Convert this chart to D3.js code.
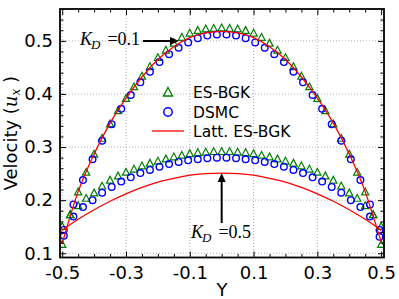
<!DOCTYPE html>
<html><head><meta charset="utf-8">
<script src="https://cdn.jsdelivr.net/npm/d3@7"></script>
<style>body{margin:0;background:#fff}svg{display:block}</style>
</head><body>
<svg id="c" width="399" height="299"></svg>
<script>
// ---- data ----
const esY = [-0.5,-0.475,-0.45,-0.425,-0.4,-0.375,-0.35,-0.325,-0.3,-0.275,-0.25,-0.225,-0.2,-0.175,-0.15,-0.125,-0.1,-0.075,-0.05,-0.025,0,
  0.025,0.05,0.075,0.1,0.125,0.15,0.175,0.2,0.225,0.25,0.275,0.3,0.325,0.35,0.375,0.4,0.425,0.45,0.475,0.5];
const esK01 = [0.117,0.173,0.216,0.253,0.287,0.317,0.344,0.369,0.392,0.414,0.434,0.452,0.469,0.483,0.496,0.507,0.515,0.520,0.523,0.524,0.525,
  0.524,0.523,0.520,0.515,0.507,0.496,0.483,0.469,0.452,0.434,0.414,0.392,0.369,0.344,0.317,0.287,0.253,0.216,0.173,0.117];
const esK05 = [0.151,0.173,0.190,0.204,0.214,0.227,0.238,0.246,0.253,0.259,0.265,0.270,0.274,0.278,0.282,0.285,0.288,0.290,0.291,0.292,0.292,
  0.292,0.291,0.290,0.288,0.285,0.282,0.278,0.274,0.270,0.265,0.259,0.253,0.246,0.238,0.227,0.214,0.204,0.190,0.173,0.151];
const dsY = [-0.495,-0.465,-0.435,-0.405,-0.375,-0.345,-0.315,-0.285,-0.255,-0.225,-0.195,-0.165,-0.135,-0.105,-0.075,-0.045,-0.015,
  0.015,0.045,0.075,0.105,0.135,0.165,0.195,0.225,0.255,0.285,0.315,0.345,0.375,0.405,0.435,0.465,0.495];
const dsK01 = [0.133,0.192,0.238,0.277,0.312,0.343,0.372,0.398,0.422,0.442,0.460,0.475,0.487,0.497,0.505,0.510,0.512,
  0.512,0.510,0.505,0.497,0.487,0.475,0.460,0.442,0.422,0.398,0.372,0.343,0.312,0.277,0.238,0.192,0.131];
const dsK05 = [0.144,0.169,0.187,0.200,0.214,0.225,0.235,0.243,0.251,0.257,0.263,0.268,0.272,0.275,0.277,0.279,0.280,
  0.280,0.279,0.277,0.275,0.272,0.268,0.263,0.257,0.251,0.243,0.235,0.225,0.214,0.200,0.187,0.169,0.144];
const latY = [-0.5,-0.475,-0.45,-0.4,-0.35,-0.3,-0.25,-0.2,-0.15,-0.1,-0.05,0,0.05,0.1,0.15,0.2,0.25,0.3,0.35,0.4,0.45,0.475,0.5];
const latK01 = [0.118,0.170,0.216,0.287,0.345,0.392,0.432,0.465,0.489,0.506,0.515,0.518,0.515,0.506,0.489,0.465,0.432,0.392,0.345,0.287,0.216,0.170,0.122];
const latK05 = [0.143,0.154,0.164,0.182,0.198,0.212,0.224,0.234,0.241,0.247,0.250,0.251,0.250,0.247,0.241,0.234,0.224,0.212,0.198,0.182,0.164,0.154,0.143];
const xTicks = [-0.5,-0.3,-0.1,0.1,0.3,0.5];
const xTickLabels = ["-0.5","-0.3","-0.1","0.1","0.3","0.5"];
const xMinor = [-0.45,-0.4,-0.35,-0.25,-0.2,-0.15,-0.05,0,0.05,0.15,0.2,0.25,0.35,0.4,0.45];
const yTicks = [0.1,0.2,0.3,0.4,0.5];
const yTickLabels = ["0.1","0.2","0.3","0.4","0.5"];
const yMinor = [0.12,0.14,0.16,0.18,0.22,0.24,0.26,0.28,0.32,0.34,0.36,0.38,0.42,0.44,0.46,0.48,0.52,0.54];
const legendLabels = ["ES-BGK","DSMC","Latt. ES-BGK"];

// ---- layout ----
const L=60, R=384, T=9, B=257.5;
const svg = d3.select("#c");
const x = d3.scaleLinear().domain([-0.507,0.509]).range([L,R]);
const y = d3.scaleLinear().domain([0.092,0.56]).range([B,T]);
const font = "DejaVu Sans, sans-serif";

// grid
const grid = svg.append("g").attr("stroke","#b0b0b0").attr("stroke-width",1).attr("stroke-dasharray","1,2");
grid.selectAll(".gx").data(xTicks).join("line").attr("x1",d=>x(d)).attr("x2",d=>x(d)).attr("y1",T).attr("y2",B);
grid.selectAll(".gy").data(yTicks).join("line").attr("y1",d=>y(d)).attr("y2",d=>y(d)).attr("x1",L).attr("x2",R);

// clip
svg.append("clipPath").attr("id","clip").append("rect").attr("x",L).attr("y",T).attr("width",R-L).attr("height",B-T);
const plot = svg.append("g").attr("clip-path","url(#clip)");

const tri = "M0,-3.6L3.6,3.2L-3.6,3.2Z";
function triangles(ys, vs){
  plot.append("g").selectAll("path").data(ys.map((d,i)=>[d,vs[i]])).join("path")
    .attr("d",tri).attr("transform",d=>`translate(${x(d[0])},${y(d[1])})`)
    .attr("fill","none").attr("stroke","#008000").attr("stroke-width",1.2);
}
function circles(ys, vs){
  plot.append("g").selectAll("circle").data(ys.map((d,i)=>[d,vs[i]])).join("circle")
    .attr("cx",d=>x(d[0])).attr("cy",d=>y(d[1])).attr("r",3.3)
    .attr("fill","none").attr("stroke","#0000ff").attr("stroke-width",1.4);
}
triangles(esY, esK01); triangles(esY, esK05);
circles(dsY, dsK01); circles(dsY, dsK05);
const line = d3.line().x(d=>x(d[0])).y(d=>y(d[1])).curve(d3.curveMonotoneX);
[latK01, latK05].forEach(vs=>{
  plot.append("path").attr("d", line(latY.map((d,i)=>[d,vs[i]])))
    .attr("fill","none").attr("stroke","#ff0000").attr("stroke-width",1.3);
});

// axes
function styleAxis(g){ g.select(".domain").remove(); g.selectAll("line").attr("stroke","#000").attr("stroke-width",1); }
const xb = svg.append("g").attr("transform",`translate(0,${B})`)
  .call(d3.axisBottom(x).tickValues(xTicks).tickFormat((d,i)=>xTickLabels[i]).tickSize(-6).tickPadding(9));
styleAxis(xb); xb.selectAll("text").attr("font-family",font).attr("font-size",18).attr("fill","#000");
const xbm = svg.append("g").attr("transform",`translate(0,${B})`).call(d3.axisBottom(x).tickValues(xMinor).tickFormat("").tickSize(-3.5));
styleAxis(xbm);
const xt = svg.append("g").attr("transform",`translate(0,${T})`).call(d3.axisTop(x).tickValues(xTicks).tickFormat("").tickSize(-6));
styleAxis(xt);
const xtm = svg.append("g").attr("transform",`translate(0,${T})`).call(d3.axisTop(x).tickValues(xMinor).tickFormat("").tickSize(-3.5));
styleAxis(xtm);
const yl = svg.append("g").attr("transform",`translate(${L},0)`)
  .call(d3.axisLeft(y).tickValues(yTicks).tickFormat((d,i)=>yTickLabels[i]).tickSize(-6).tickPadding(7));
styleAxis(yl); yl.selectAll("text").attr("font-family",font).attr("font-size",18).attr("fill","#000");
const ylm = svg.append("g").attr("transform",`translate(${L},0)`).call(d3.axisLeft(y).tickValues(yMinor).tickFormat("").tickSize(-3.5));
styleAxis(ylm);
const yr = svg.append("g").attr("transform",`translate(${R},0)`).call(d3.axisRight(y).tickValues(yTicks).tickFormat("").tickSize(-6));
styleAxis(yr);
const yrm = svg.append("g").attr("transform",`translate(${R},0)`).call(d3.axisRight(y).tickValues(yMinor).tickFormat("").tickSize(-3.5));
styleAxis(yrm);
svg.append("rect").attr("x",L).attr("y",T).attr("width",R-L).attr("height",B-T)
  .attr("fill","none").attr("stroke","#000").attr("stroke-width",1.8);

// axis titles
svg.append("text").attr("x",(L+R)/2).attr("y",296).attr("text-anchor","middle")
  .attr("font-family",font).attr("font-size",18).text("Y");
const yt = svg.append("text").attr("transform",`translate(16.5,${(T+B)/2}) rotate(-90)`).attr("text-anchor","middle")
  .attr("font-family",font).attr("font-size",18);
yt.append("tspan").text("Velocity (");
yt.append("tspan").attr("font-family","DejaVu Serif, serif").attr("font-style","italic").text("u");
yt.append("tspan").attr("font-family","DejaVu Serif, serif").attr("font-style","italic").attr("font-size",12).attr("dy",3).text("x");
yt.append("tspan").attr("dy",-3).text(" )");

// legend
const lg = svg.append("g");
lg.append("path").attr("d",tri).attr("transform","translate(168,92) scale(1.25)").attr("fill","none").attr("stroke","#008000").attr("stroke-width",1.1);
lg.append("circle").attr("cx",168).attr("cy",112).attr("r",4.2).attr("fill","none").attr("stroke","#0000ff").attr("stroke-width",1.5);
lg.append("line").attr("x1",152).attr("x2",184).attr("y1",131).attr("y2",131).attr("stroke","#ff0000").attr("stroke-width",1.3);
lg.selectAll("text").data(legendLabels).join("text").attr("x",193).attr("y",(d,i)=>98+i*19.5)
  .attr("font-family",font).attr("font-size",15.5).text(d=>d);

// annotations
function kd(x0, yb, val){
  const t = svg.append("text").attr("x",x0).attr("y",yb).attr("font-family","Liberation Serif, serif").attr("font-size",18);
  t.append("tspan").attr("font-style","italic").text("K");
  t.append("tspan").attr("font-style","italic").attr("font-size",13).attr("dy",4).attr("dx",-1).text("D");
  t.append("tspan").attr("dy",-4).attr("dx",7).text("=" + val);
}
kd(80, 45, "0.1");
kd(191, 238, "0.5");
// arrows
svg.append("line").attr("x1",143).attr("y1",41).attr("x2",171).attr("y2",41).attr("stroke","#000").attr("stroke-width",2);
svg.append("path").attr("d","M179,41L170,37L170,45Z").attr("fill","#000");
svg.append("line").attr("x1",x(0)).attr("y1",223).attr("x2",x(0)).attr("y2",182).attr("stroke","#000").attr("stroke-width",2);
svg.append("path").attr("d",`M${x(0)},${y(0.251)}L${x(0)-4},${y(0.251)+9}L${x(0)+4},${y(0.251)+9}Z`).attr("fill","#000");
</script>
</body></html>
